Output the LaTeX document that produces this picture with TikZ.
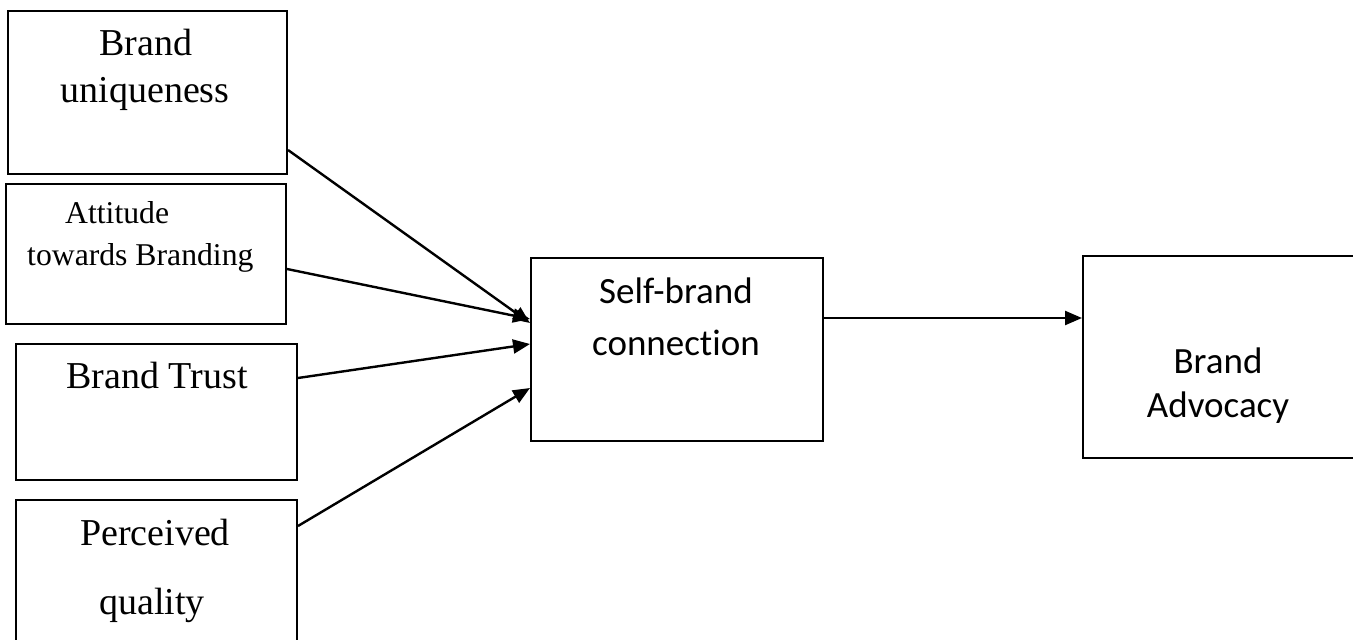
\documentclass[tikz,border=0pt]{standalone}
\usepackage{fontspec}
\setmainfont{Liberation Serif}
\newfontfamily\calib[Ligatures=NoCommon]{Carlito}
\usetikzlibrary{arrows.meta}
\begin{document}
\begin{tikzpicture}[x=1pt,y=-1pt,
  box/.style={draw=black,line width=2pt,rectangle,anchor=north west,inner sep=0pt},
  serif/.style={anchor=base,inner sep=0pt,font=\fontsize{38}{42}\selectfont},
  serifs/.style={anchor=base west,inner sep=0pt,font=\fontsize{31.7}{36}\selectfont},
  sans/.style={anchor=base,inner sep=0pt,font=\calib\fontsize{37}{41}\selectfont},
  link/.style={line width=2.4pt,-{Triangle[length=17pt,width=14pt]}}]
\useasboundingbox (0,0) rectangle (1353,640);
% boxes
\node[box,minimum width=279pt,minimum height=163pt] (bu) at (7,10) {};
\node[box,minimum width=280pt,minimum height=140pt] (ab) at (5,183) {};
\node[box,minimum width=281pt,minimum height=136pt] (bt) at (15,343) {};
\node[box,minimum width=281pt,minimum height=161pt] (pq) at (15,499) {};
\node[box,minimum width=292pt,minimum height=183pt] (sbc) at (530,257) {};
\node[box,minimum width=271pt,minimum height=202pt] (ba) at (1082,255) {};
% texts
\node[serif] (t1a) at (146,55) {Brand};
\node[serif] (t1b) at (145,102) {uniqueness};
\node[serifs] (t2a) at (65,223) {Attitude};
\node[serifs] (t2b) at (27,265) {towards Branding};
\node[serif] (t3) at (157,388) {Brand Trust};
\node[serif] (t4a) at (155,545) {Perceived};
\node[serif] (t4b) at (152,614) {quality};
\node[sans] (t5a) at (676,303) {Self-brand};
\node[sans] (t5b) at (676,355) {connection};
\node[sans] (t6a) at (1218,373) {Brand};
\node[sans] (t6b) at (1218,417) {Advocacy};
% connectors
\draw[link] ([yshift=25pt]bu.south east) -- ([yshift=26.5pt]sbc.west);
\draw[link] ([yshift=-15pt]ab.east) -- ([yshift=30.5pt]sbc.west);
\draw[link] ([yshift=34pt]bt.east) -- ([yshift=5.5pt]sbc.west);
\draw[link] ([yshift=-27pt]pq.north east) -- ([yshift=-38.5pt]sbc.west);
\draw[link] ([yshift=31.5pt]sbc.east) -- ([yshift=39pt]ba.west);
\end{tikzpicture}
\end{document}
